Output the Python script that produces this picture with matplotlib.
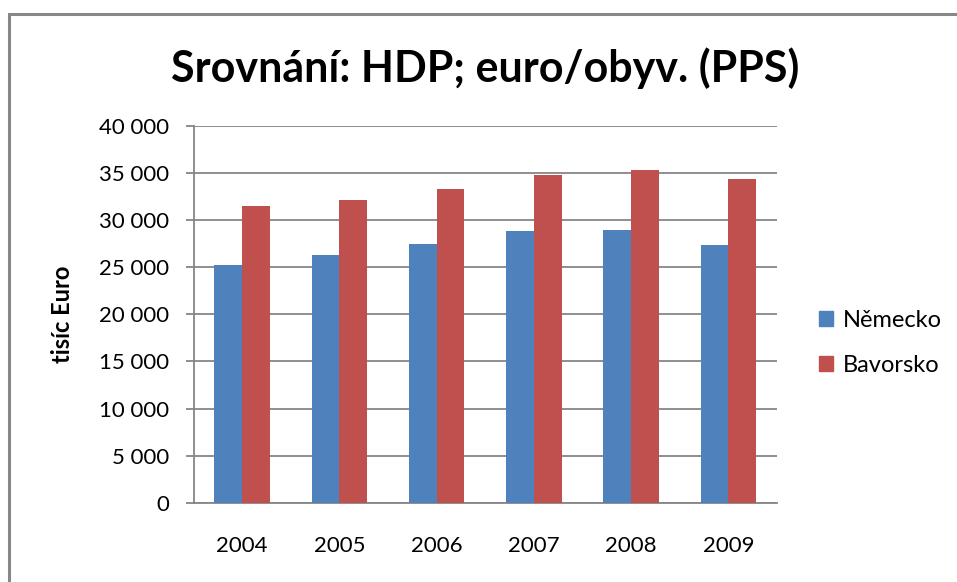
import matplotlib
matplotlib.use("Agg")
import matplotlib.pyplot as plt
import numpy as np
from matplotlib.patches import Rectangle, Patch
from matplotlib.ticker import FuncFormatter

years = ["2004", "2005", "2006", "2007", "2008", "2009"]
nemecko = [25200, 26300, 27500, 28900, 29000, 27400]
bavorsko = [31500, 32100, 33300, 34800, 35300, 34400]
series_names = ["Německo", "Bavorsko"]
title = "Srovnání: HDP; euro/obyv. (PPS)"
ylabel = "tisíc Euro"

plt.rcParams['font.family'] = ['Lato', 'DejaVu Sans']

W, H = 957, 582
fig = plt.figure(figsize=(W / 100, H / 100), dpi=100)
fig.patch.set_facecolor("white")

# outer chart border (left and top visible)
fig.add_artist(Rectangle((9 / W, -0.1), 1.2, (H - 14) / H + 0.1, transform=fig.transFigure,
                         fill=False, edgecolor="#878787", linewidth=2.2))

ax = fig.add_axes([193.5 / W, 79.3 / H, 583.5 / W, 376.7 / H])
x = np.arange(len(years))
w = 0.285
blue = "#4F81BD"
red = "#C0504D"
ax.bar(x - w / 2, nemecko, width=w, color=blue, zorder=3)
ax.bar(x + w / 2, bavorsko, width=w, color=red, zorder=3)

ax.set_xlim(-0.5, len(years) - 0.5)
ax.set_ylim(0, 40000)
ax.set_yticks(np.arange(0, 40001, 5000))
ax.yaxis.set_major_formatter(FuncFormatter(lambda v, p: f"{int(v):,}".replace(",", " ")))
ax.set_xticks(x)
ax.set_xticklabels(years)

grid_c = "#868686"
ax.grid(axis="y", color=grid_c, linewidth=1.3, zorder=0)
for s in ["top", "right"]:
    ax.spines[s].set_visible(False)
ax.spines["left"].set_color(grid_c)
ax.spines["bottom"].set_color(grid_c)
ax.spines["left"].set_linewidth(1.3)
ax.spines["bottom"].set_linewidth(1.3)
ax.tick_params(axis="y", length=5.8, color=grid_c, width=1.3, labelsize=16, pad=12)
ax.tick_params(axis="x", length=0, labelsize=16, pad=24)

fig.text(63 / W, 1 - 314 / H, ylabel, rotation=90, ha="center", va="center",
         fontsize=17, fontweight="bold")
fig.text(485 / W, 1 - 68 / H, title, ha="center", va="center",
         fontsize=31, fontweight="bold")

handles = [Patch(color=blue), Patch(color=red)]
fig.legend(handles, series_names, loc="center left", bbox_to_anchor=(819 / W, 1 - 343 / H),
           frameon=False, fontsize=17, handlelength=0.6, handleheight=0.6,
           handletextpad=0.4, labelspacing=1.0, borderpad=0, borderaxespad=0)

fig.savefig("out.png", dpi=100, facecolor="white")
